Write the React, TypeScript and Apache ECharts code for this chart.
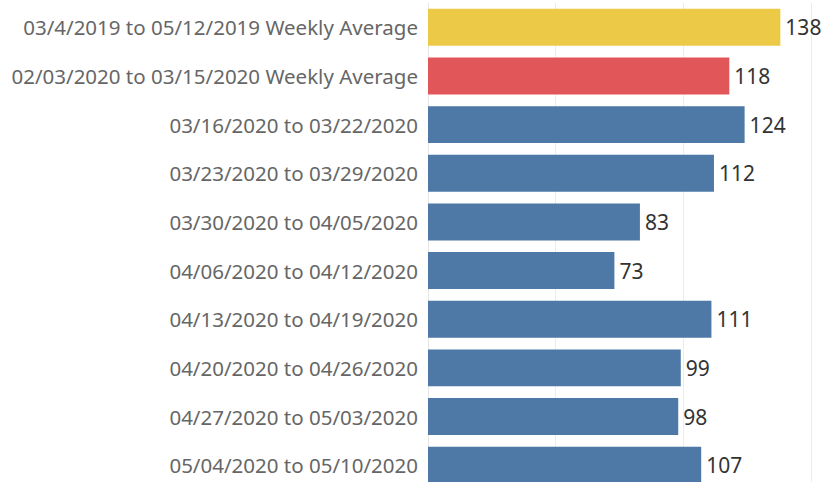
import React, { useEffect, useRef } from "react";
import * as echarts from "echarts";

const categories = [
  "03/4/2019 to 05/12/2019 Weekly Average",
  "02/03/2020 to 03/15/2020 Weekly Average",
  "03/16/2020 to 03/22/2020",
  "03/23/2020 to 03/29/2020",
  "03/30/2020 to 04/05/2020",
  "04/06/2020 to 04/12/2020",
  "04/13/2020 to 04/19/2020",
  "04/20/2020 to 04/26/2020",
  "04/27/2020 to 05/03/2020",
  "05/04/2020 to 05/10/2020",
];
const values = [138, 118, 124, 112, 83, 73, 111, 99, 98, 107];
const barColors = [
  "#EDC948", "#E15759", "#4E79A7", "#4E79A7", "#4E79A7",
  "#4E79A7", "#4E79A7", "#4E79A7", "#4E79A7", "#4E79A7",
];

export default function App() {
  const ref = useRef<HTMLDivElement>(null);
  useEffect(() => {
    const chart = echarts.init(ref.current!, null, { renderer: "svg" });
    chart.setOption({
      animation: false,
      grid: { left: 428, top: 3, width: 383, height: 486.5, outerBoundsMode: "none", containLabel: false },
      xAxis: {
        type: "value",
        min: 0,
        max: 150,
        interval: 50,
        axisLabel: { show: false },
        axisTick: { show: false },
        axisLine: { show: false },
        splitLine: { show: true, lineStyle: { color: "#ececec", width: 1 } },
      },
      yAxis: {
        type: "category",
        inverse: true,
        data: categories,
        axisTick: { show: false },
        axisLine: { show: true, lineStyle: { color: "#e6e6e6" } },
        axisLabel: {
          margin: 10,
          color: "#666666",
          fontFamily: "Noto Sans",
          fontSize: 20.5,
        },
      },
      series: [
        {
          type: "bar",
          data: values.map((v, i) => ({ value: v, itemStyle: { color: barColors[i] } })),
          barCategoryGap: "24%",
          label: {
            show: true,
            position: "right",
            distance: 5,
            color: "#333333",
            fontFamily: "Noto Sans",
            fontSize: 21,
          },
        },
      ],
    });
    return () => chart.dispose();
  }, []);
  return (
    <div
      ref={ref}
      style={{ position: "absolute", left: 0, top: 0, width: 823, height: 482, background: "#fff" }}
    />
  );
}
